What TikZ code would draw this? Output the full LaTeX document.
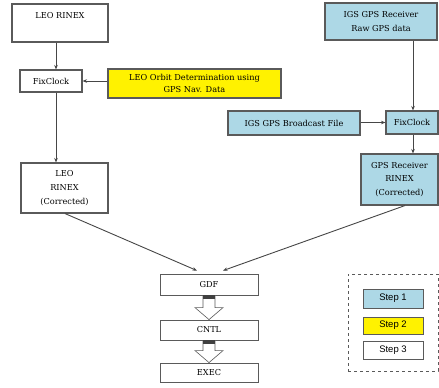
\documentclass[tikz,border=0pt]{standalone}
\usepackage{fontspec}
\setmainfont{DejaVu Serif}
\newfontfamily\stepfont{Liberation Sans}
\usetikzlibrary{arrows.meta,calc}
\definecolor{boxblue}{RGB}{173,216,230}
\definecolor{edge}{RGB}{90,90,90}
\definecolor{wire}{RGB}{70,70,70}
\tikzset{
  box/.style={draw=edge, line width=1.1pt, fill=white, inner sep=0pt, align=center,
    font=\fontsize{8.2}{13.8}\selectfont},
  bluebox/.style={box, fill=boxblue},
  yellowbox/.style={box, fill=yellow},
  flowbox/.style={draw=edge, line width=0.8pt, fill=white, inner sep=0pt,
    minimum width=98pt, font=\fontsize{8.2}{9}\selectfont},
  stepbox/.style={draw=edge, line width=0.9pt, inner sep=0pt, minimum width=60pt,
    font=\stepfont\fontsize{9.5}{10}\selectfont},
  wirearrow/.style={draw=wire, line width=0.9pt, -{Stealth[length=4.5pt,width=3.5pt]}},
}
\begin{document}
\begin{tikzpicture}[x=1pt,y=-1pt]
\useasboundingbox (0,0) rectangle (439,388);

% left column
\node[box, minimum width=96pt, minimum height=38pt, font=\fontsize{8.2}{12}\selectfont] (leo) at (60,23) {LEO RINEX\\\strut};
\node[box, minimum width=62pt, minimum height=22pt] (fixL) at (51,81) {FixClock};
\node[yellowbox, minimum width=173pt, minimum height=29pt, font=\fontsize{8.2}{11.5}\selectfont] (orbit) at (194.5,83.5)
  {LEO Orbit Determination using\\GPS Nav. Data};
\node[box, minimum width=87pt, minimum height=50pt] (leoC) at (64.5,188) {LEO\\RINEX\\(Corrected)};

% right column
\node[bluebox, minimum width=112pt, minimum height=37pt] (igsR) at (381,21.5) {IGS GPS Receiver\\Raw GPS data};
\node[bluebox, minimum width=132pt, minimum height=24pt] (bcast) at (294,123) {IGS GPS Broadcast File};
\node[bluebox, minimum width=52pt, minimum height=23pt] (fixR) at (412,122.5) {FixClock};
\node[bluebox, minimum width=77pt, minimum height=51pt, font=\fontsize{8.2}{13.3}\selectfont] (gpsR) at (399.5,179.5) {GPS Receiver\\RINEX\\(Corrected)};

% processing chain
\node[flowbox, minimum height=21pt] (gdf) at (209,284.5) {GDF};
\node[flowbox, minimum height=20pt] (cntl) at (209,330) {CNTL};
\node[flowbox, minimum height=19pt] (exec) at (209,372.5) {EXEC};

% legend
\node[draw=edge, dashed, line width=0.7pt, minimum width=90pt, minimum height=97pt, inner sep=0pt] (legend) at (393,322.5) {};
\node[stepbox, fill=boxblue, minimum height=19pt] (s1) at (393,298.5) {Step 1};
\node[stepbox, fill=yellow, minimum height=17pt] (s2) at (393,325.5) {Step 2};
\node[stepbox, fill=white, minimum height=18pt] (s3) at (393,350) {Step 3};

% connectors
\coordinate (lx) at (56,0);
\coordinate (rx) at (413,0);
\draw[wirearrow] (leo.south -| lx) -- (fixL.north -| lx);
\draw[wirearrow] (fixL.south -| lx) -- (leoC.north -| lx);
\draw[wirearrow] (orbit.west |- fixL.east) -- (fixL.east);
\draw[wirearrow] (igsR.south -| rx) -- (fixR.north -| rx);
\draw[wirearrow] (bcast.east |- fixR.west) -- (fixR.west);
\draw[wirearrow] (fixR.south -| rx) -- (gpsR.north -| rx);
\coordinate (gin1) at ($(gdf.north)+(-12,-3)$);
\coordinate (gin2) at ($(gdf.north)+(14,-3)$);
\draw[wirearrow] ($(leoC.south)+(0.5,0)$) -- (gin1);
\draw[wirearrow] ($(gpsR.south)+(5.5,0)$) -- (gin2);

% hollow block arrows between the chain steps
\foreach \a/\b in {gdf/cntl, cntl/exec}{
  \path (\a.south) coordinate (top) (\b.north) coordinate (tip);
  \draw[edge, line width=0.6pt, fill=white]
    ($(top)+(-6,0)$) -- ($(tip)+(-6,-12)$) -- ($(tip)+(-14,-12)$) -- (tip)
    -- ($(tip)+(14,-12)$) -- ($(tip)+(6,-12)$) -- ($(top)+(6,0)$) -- cycle;
  \fill[black!75] ($(top)+(-6,0)$) rectangle ($(top)+(6,3.5)$);
}
\end{tikzpicture}
\end{document}
